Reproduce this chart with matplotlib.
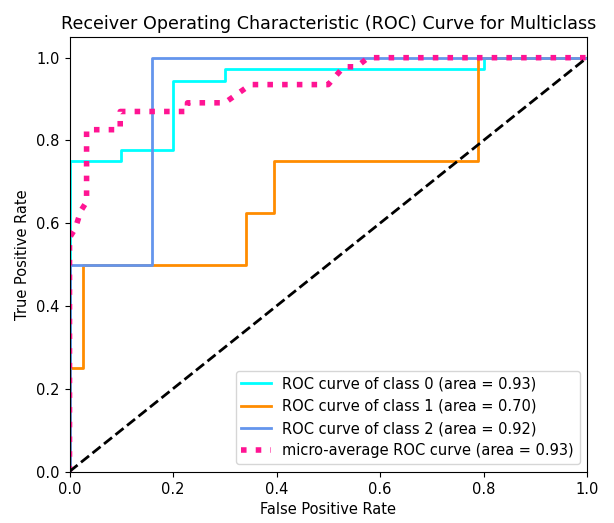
import matplotlib
matplotlib.use("Agg")
import matplotlib.pyplot as plt

# ROC curve points per class (false positive rate, true positive rate)
fpr_class0 = [0.0, 0.0, 0.1, 0.1, 0.2, 0.2, 0.3, 0.3, 0.8, 0.8, 1.0]
tpr_class0 = [0.0, 0.75, 0.75, 0.778, 0.778, 0.944, 0.944, 0.972, 0.972, 1.0, 1.0]

fpr_class1 = [0.0, 0.0, 0.026, 0.026, 0.342, 0.342, 0.395, 0.395, 0.789, 0.789, 1.0]
tpr_class1 = [0.0, 0.25, 0.25, 0.5, 0.5, 0.625, 0.625, 0.75, 0.75, 1.0, 1.0]

fpr_class2 = [0.0, 0.0, 0.159, 0.159, 1.0]
tpr_class2 = [0.0, 0.5, 0.5, 1.0, 1.0]

fpr_micro = [0.0, 0.0, 0.011, 0.022, 0.033, 0.033, 0.098, 0.098, 0.228, 0.228,
             0.30, 0.35, 0.50, 0.53, 0.555, 0.577, 1.0]
tpr_micro = [0.0, 0.565, 0.587, 0.630, 0.652, 0.826, 0.826, 0.870, 0.870, 0.891,
             0.891, 0.935, 0.935, 0.978, 0.978, 1.0, 1.0]

auc_values = [0.93, 0.70, 0.92]
auc_micro = 0.93
class_colors = ["aqua", "darkorange", "cornflowerblue"]

plt.rcParams.update({
    "font.size": 10.5,
    "xtick.major.size": 3.7,
    "ytick.major.size": 3.7,
})

fig = plt.figure(figsize=(6.14, 5.23), dpi=100)
ax = fig.add_axes([69.5 / 614, 51.5 / 523, 517.5 / 614, 434.5 / 523])

curves = [(fpr_class0, tpr_class0), (fpr_class1, tpr_class1), (fpr_class2, tpr_class2)]
for i, ((fpr, tpr), color) in enumerate(zip(curves, class_colors)):
    ax.plot(fpr, tpr, color=color, lw=2,
            label=f"ROC curve of class {i} (area = {auc_values[i]:.2f})")

ax.plot(fpr_micro, tpr_micro, color="deeppink", linestyle=":", linewidth=4,
        label=f"micro-average ROC curve (area = {auc_micro:.2f})")

ax.plot([0, 1], [0, 1], "k--", lw=2)
ax.set_xlim([0.0, 1.0])
ax.set_ylim([0.0, 1.05])
ax.set_xlabel("False Positive Rate")
ax.set_ylabel("True Positive Rate")
ax.set_title("Receiver Operating Characteristic (ROC) Curve for Multiclass",
             fontsize=12.6)
ax.legend(loc="lower right")

fig.savefig("out.png", dpi=100)
